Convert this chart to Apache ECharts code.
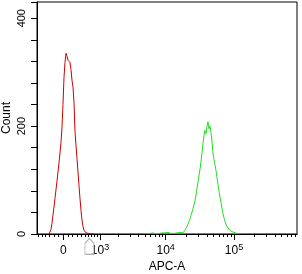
<!DOCTYPE html>
<html>
<head>
<meta charset="utf-8">
<script src="https://cdn.jsdelivr.net/npm/echarts@6/dist/echarts.min.js"></script>
<style>html,body{margin:0;padding:0;background:#fff}#c{width:302px;height:274px}</style>
</head>
<body>
<div id="c"></div>
<script>
// ---- data (display scale: biexponential, in decades) ----
const binStep = 0.01464;           // display decades per histogram bin
const redFirstBin = -0.2094;       // display position of first red bin
const greenFirstBin = 1.2694;      // display position of first green bin
const redCounts = [0,2,8,20,35,50,66,82,98,115,132,150,170,198,240,290,318,335,330,322,320,318,305,285,272,245,190,165,140,115,90,66,44,26,14,7,4,2,2,2,1,1,1,0,1,0];
const greenCounts = [1,0,1,2,1,1,0,2,1,1,3,1,2,1,0,2,1,2,3,1,2,1,3,2,1,2,4,2,3,2,3,
  1,2,2,4,7,10,14,18,23,28,34,40,47,54,62,72,84,96,108,120,134,150,168,182,192,186,200,208,195,200,188,172,150,138,128,118,105,92,80,68,58,48,38,30,24,18,14,11,9,7,5,4,4,3,2,2,1,1,0];
const majorTickValues = [0, 1000, 10000, 100000];
const majorTickLabels = ['0', '10^3', '10^4', '10^5'];
const minorTickValues = [-600,-500,-400,-300,-200,-100,100,200,300,400,500,600,700,800,900,
  2000,3000,4000,5000,6000,7000,8000,9000,
  20000,30000,40000,50000,60000,70000,80000,90000,
  200000,300000,400000,500000,600000,700000,800000];
const yLabelValues = [0, 200, 400];
const gateMarker = [634, -23];
const xRange = [-0.385, 3.422];
const yRange = [0, 430];

const W = 634;
function toDisplay(v) { return Math.asinh(v / W) / Math.LN10; }
function bins(first, counts) { return counts.map((c, i) => [first + i * binStep, c]); }
function richLabel(s) {
  const p = s.split('^');
  return p.length === 2 ? '{b|' + p[0] + '}{s|' + p[1] + '}' : '{b|' + s + '}';
}
const majorDisp = majorTickValues.map(toDisplay);
const minorDisp = minorTickValues.map(toDisplay);

const chart = echarts.init(document.getElementById('c'), null, {renderer: 'canvas'});
const font = 'Liberation Sans, Arial, sans-serif';
chart.setOption({
  animation: false,
  grid: {left: 37, top: 2, right: 5, bottom: 40, show: true, borderColor: '#000', borderWidth: 1,
         containLabel: false, outerBoundsMode: 'none'},
  xAxis: [
    {type: 'value', min: xRange[0], max: xRange[1], position: 'bottom',
     axisLine: {show: true, onZero: false, lineStyle: {color: '#000', width: 1}},
     axisTick: {show: true, length: 3, customValues: minorDisp, lineStyle: {color: '#000'}},
     axisLabel: {show: false}, splitLine: {show: false}},
    {type: 'value', min: xRange[0], max: xRange[1], position: 'bottom',
     name: 'APC-A', nameLocation: 'middle', nameGap: 27, nameMoveOverlap: false,
     nameTextStyle: {fontFamily: font, fontSize: 12, color: '#000'},
     axisLine: {show: true, onZero: false, lineStyle: {color: '#000', width: 1}},
     axisTick: {show: true, length: 6, customValues: majorDisp, lineStyle: {color: '#000'}},
     axisLabel: {show: true, customValues: majorDisp, margin: 9,
       formatter: function (v) {
         let best = 0, d = Infinity;
         majorDisp.forEach((m, i) => { if (Math.abs(m - v) < d) { d = Math.abs(m - v); best = i; } });
         return richLabel(majorTickLabels[best]);
       },
       rich: {b: {fontFamily: font, fontSize: 12, color: '#000', lineHeight: 14, verticalAlign: 'bottom'},
              s: {fontFamily: font, fontSize: 9, color: '#000', lineHeight: 14, verticalAlign: 'top', padding: [0, 0, 5, 0]}}},
     splitLine: {show: false}}
  ],
  yAxis: {type: 'value', min: yRange[0], max: yRange[1], interval: 40,
    name: 'Count', nameLocation: 'middle', nameGap: 24, nameRotate: 90, nameMoveOverlap: false,
    nameTextStyle: {fontFamily: font, fontSize: 12, color: '#000'},
    axisLine: {show: true, onZero: false, lineStyle: {color: '#000', width: 1}},
    axisTick: {show: true, length: 6, lineStyle: {color: '#000'}},
    axisLabel: {show: true, rotate: 90, margin: 10, fontFamily: font, fontSize: 11, color: '#000',
      formatter: v => (yLabelValues.indexOf(v) >= 0 ? String(v) : '')},
    splitLine: {show: false}},
  series: [
    {type: 'line', data: bins(redFirstBin, redCounts), showSymbol: false, symbol: 'none',
     lineStyle: {color: '#cc0000', width: 1}, xAxisIndex: 0},
    {type: 'line', data: bins(greenFirstBin, greenCounts), showSymbol: false, symbol: 'none',
     lineStyle: {color: '#22dd22', width: 1}, xAxisIndex: 0},
    {type: 'scatter', xAxisIndex: 0, clip: false, silent: true,
     data: [[toDisplay(gateMarker[0]), gateMarker[1]]],
     symbol: 'path://M5,0 L10,5 L10,16 L0,16 L0,5 Z', symbolSize: [9, 16],
     itemStyle: {color: '#ffffff', borderColor: '#999999', borderWidth: 1}}
  ]
});
</script>
</body>
</html>
